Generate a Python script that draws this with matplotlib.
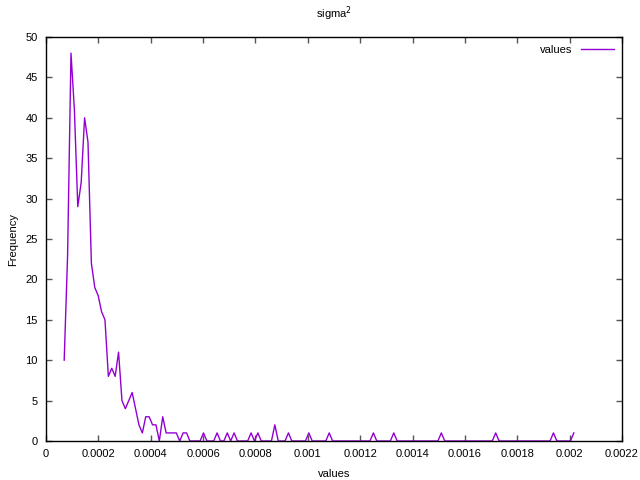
import matplotlib
matplotlib.use("Agg")
import matplotlib.pyplot as plt
import numpy as np

# histogram of sigma^2: first bin centre, last bin centre, counts per bin
BIN_FIRST = 0.0000695
BIN_LAST = 0.002016
counts = [
    10, 23, 48, 41, 29, 32, 40, 37, 22, 19,
    18, 16, 15, 8, 9, 8, 11, 5, 4, 5,
    6, 4, 2, 1, 3, 3, 2, 2, 0, 3,
    1, 1, 1, 1, 0, 1, 1, 0, 0, 0,
    0, 1, 0, 0, 0, 1, 0, 0, 1, 0,
    1, 0, 0, 0, 0, 1, 0, 1, 0, 0,
    0, 0, 2, 0, 0, 0, 1, 0, 0, 0,
    0, 0, 1, 0, 0, 0, 0, 0, 1, 0,
    0, 0, 0, 0, 0, 0, 0, 0, 0, 0,
    0, 1, 0, 0, 0, 0, 0, 1, 0, 0,
    0, 0, 0, 0, 0, 0, 0, 0, 0, 0,
    0, 1, 0, 0, 0, 0, 0, 0, 0, 0,
    0, 0, 0, 0, 0, 0, 0, 1, 0, 0,
    0, 0, 0, 0, 0, 0, 0, 0, 0, 0,
    0, 0, 0, 0, 1, 0, 0, 0, 0, 0,
    1,
]
x_ticks = [0, 0.0002, 0.0004, 0.0006, 0.0008, 0.001, 0.0012, 0.0014,
           0.0016, 0.0018, 0.002, 0.0022]
x_tick_labels = ["0", "0.0002", "0.0004", "0.0006", "0.0008", "0.001",
                 "0.0012", "0.0014", "0.0016", "0.0018", "0.002", "0.0022"]
y_ticks = [0, 5, 10, 15, 20, 25, 30, 35, 40, 45, 50]

plt.rcParams['font.family'] = ['Liberation Sans', 'DejaVu Sans']
plt.rcParams['font.size'] = 8

bins = np.linspace(BIN_FIRST, BIN_LAST, len(counts))

fig = plt.figure(figsize=(6.4, 4.8), dpi=100)
ax = fig.add_axes([46 / 640, 1 - 441 / 480, (622 - 46) / 640, (441 - 37) / 480])

ax.plot(bins, counts, color='#9400D3', linewidth=1.0, label='values')

ax.set_xlim(0, 0.0022)
ax.set_ylim(0, 50)
ax.set_xticks(x_ticks)
ax.set_xticklabels(x_tick_labels)
ax.set_yticks(y_ticks)
ax.tick_params(direction='in', length=4, width=1, color='#555555',
               top=True, right=True, pad=6)
for sp in ax.spines.values():
    sp.set_linewidth(1.0)
    sp.set_color('black')

ax.set_title('sigma$^2$', fontsize=8, pad=14)
ax.set_xlabel('values', fontsize=8, labelpad=7)
ax.set_ylabel('Frequency', fontsize=8, labelpad=5)

ax.legend(loc='upper right', frameon=False, markerfirst=False,
          handlelength=3.0, fontsize=8, borderaxespad=0.3)

fig.savefig('out.png', dpi=100)
